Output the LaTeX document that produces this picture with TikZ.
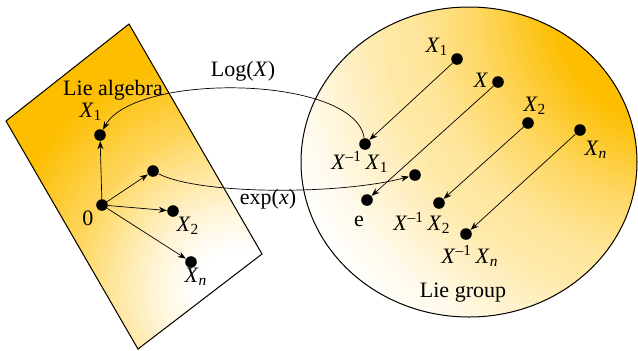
\documentclass[tikz,border=0pt]{standalone}
\usepackage{fontspec}
\setmainfont{Liberation Serif}
\usetikzlibrary{arrows.meta}
\definecolor{lo}{RGB}{253,190,0}
\newcommand\ssub[1]{\textsubscript{#1}}
\newcommand\ssup[1]{\textsuperscript{#1}}
\tikzset{
  dot/.style={circle,fill=black,inner sep=0pt,minimum size=5.8pt},
  lbl/.style={inner sep=1pt},
  arr/.style={-{Stealth[length=4pt,width=3pt]},line width=0.35pt},
  outline/.style={draw=black,line width=0.5pt}
}
\begin{document}
\begin{tikzpicture}[x=0.5pt,y=-0.5pt,font=\fontsize{11}{13}\selectfont]
\useasboundingbox (0,0) rectangle (638,350);
% Lie algebra plane: radial gradient, white near lower right
\begin{scope}
  \clip (129,24) -- (262,254) -- (138,349) -- (6,121) -- cycle;
  \fill[lo] (0,0) rectangle (300,350);
  \foreach \r in {300,296,...,0}{
    \pgfmathtruncatemacro\p{\r<=40 ? 0 : (\r<=85 ? 17*(\r-40)/45 : (\r<=120 ? 17+20*(\r-85)/35 : (\r<=168 ? 37+29*(\r-120)/48 : (\r<=240 ? 66+34*(\r-168)/72 : 100))))}
    \fill[lo!\p!white] (235,290) circle (\r);
  }
\end{scope}
\draw[outline] (129,24) -- (262,254) -- (138,349) -- (6,121) -- cycle;
% Lie group: radial gradient, orange at upper right
\begin{scope}
  \clip (469,162) ellipse [x radius=168, y radius=155];
  \fill[white] (300,0) rectangle (638,350);
  \foreach \r in {460,456,...,0}{
    \pgfmathtruncatemacro\p{\r<=130 ? 100 : (\r<=205 ? 100-38*(\r-130)/75 : (\r<=265 ? 62-22*(\r-205)/60 : (\r<=300 ? 40-5*(\r-265)/35 : (\r<=390 ? 35-27*(\r-300)/90 : (\r<=440 ? 8-8*(\r-390)/50 : 0)))))}
    \fill[lo!\p!white] (680,0) circle (\r);
  }
\end{scope}
\draw[outline] (469,162) ellipse [x radius=168, y radius=155];
% algebra points
\node[dot] (o) at (102,205) {};
\node[dot] (a1) at (100,135) {};
\node[dot] (am) at (153,171) {};
\node[dot] (a2) at (173,211) {};
\node[dot] (an) at (191,262) {};
\node[lbl] (lalg) at (113,90) {Lie algebra};
\node[lbl] (la1) at (91,112) {\textit{X}\ssub{1}};
\node[lbl] (l0) at (88,218) {0};
\node[lbl] (la2) at (188,226) {\textit{X}\ssub{2}};
\node[lbl] (lan) at (196,277) {\textit{X}\ssub{\textit{n}}};
\node[lbl] (llog) at (243,71) {Log(\textit{X})};
\node[lbl] (lexp) at (268,199) {exp(\textit{x})};
\draw[arr] (o) -- (a1);
\draw[arr] (o) -- (am);
\draw[arr] (o) -- (a2);
\draw[arr] (o) -- (an);
% group points
\node[dot] (g1) at (457,59) {};
\node[dot] (gx) at (498,82) {};
\node[dot] (g2) at (528,123) {};
\node[dot] (gn) at (580,130) {};
\node[dot] (h1) at (365,144) {};
\node[dot] (he) at (367,200) {};
\node[dot] (hexp) at (415,175) {};
\node[dot] (h2) at (439,203) {};
\node[dot] (hn) at (466,234) {};
\node[lbl] (lg1) at (437,47) {\textit{X}\ssub{1}};
\node[lbl] (lgx) at (481,80) {\textit{X}};
\node[lbl] (lg2) at (535,106) {\textit{X}\ssub{2}};
\node[lbl] (lgn) at (596,150) {\textit{X}\ssub{\textit{n}}};
\node[lbl] (lh1) at (360,162) {\textit{X}\ssup{–1}\,\textit{X}\ssub{1}};
\node[lbl] (lhe) at (359,221) {e};
\node[lbl] (lh2) at (422,223) {\textit{X}\ssup{–1}\,\textit{X}\ssub{2}};
\node[lbl] (lhn) at (470,256) {\textit{X}\ssup{–1}\,\textit{X}\ssub{\textit{n}}};
\node[lbl] (lgrp) at (463,293) {Lie group};
\draw[arr] (g1) -- (h1);
\draw[arr] (gx) -- (he);
\draw[arr] (g2) -- (h2);
\draw[arr] (gn) -- (hn);
% maps
\draw[arr] (h1) .. controls (355,75) and (135,72) .. (a1);
\draw[arr] (am) .. controls (200,195) and (340,195) .. (hexp);
\end{tikzpicture}
\end{document}
